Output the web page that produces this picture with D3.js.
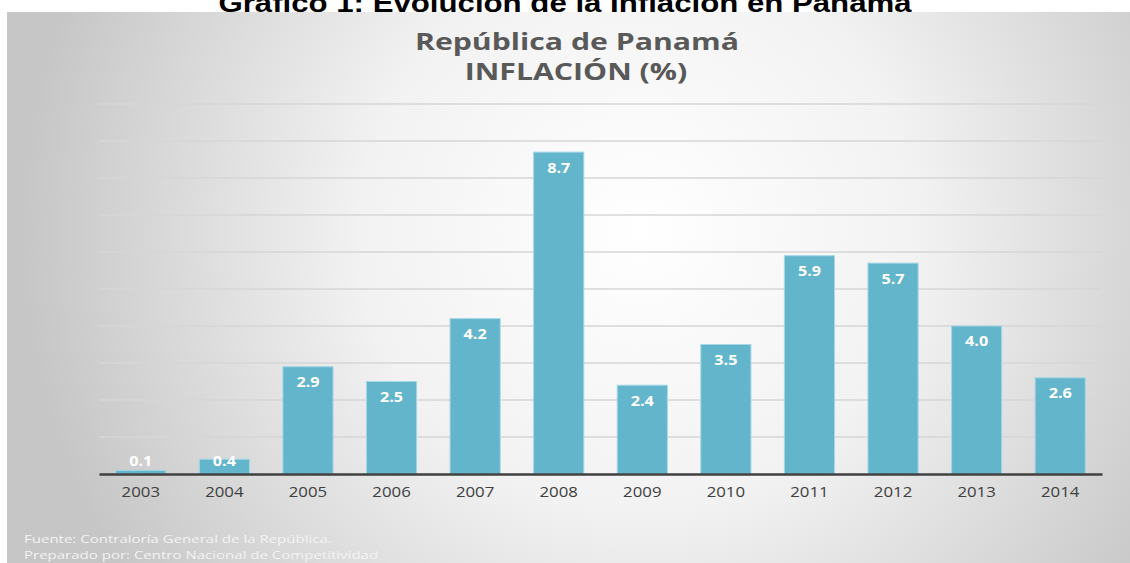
<!DOCTYPE html>
<html>
<head>
<meta charset="utf-8">
<script src="https://cdn.jsdelivr.net/npm/d3@7"></script>
<style>
  body { margin: 0; background: #fff; }
  text { font-family: "Open Sans", sans-serif; }
</style>
</head>
<body>
<div id="chart"></div>
<script>
const years = ["2003","2004","2005","2006","2007","2008","2009","2010","2011","2012","2013","2014"];
const inflation = [0.1, 0.4, 2.9, 2.5, 4.2, 8.7, 2.4, 3.5, 5.9, 5.7, 4.0, 2.6];
const yTicks = [0,1,2,3,4,5,6,7,8,9,10];

const width = 1130, height = 563;

const svg = d3.select("#chart").append("svg")
  .attr("width", width).attr("height", height);

const defs = svg.append("defs");
const grad = defs.append("radialGradient").attr("id", "bg")
  .attr("gradientUnits", "userSpaceOnUse")
  .attr("cx", 640).attr("cy", 230).attr("r", 620);
grad.append("stop").attr("offset", "0%").attr("stop-color", "#ffffff");
grad.append("stop").attr("offset", "45%").attr("stop-color", "#f2f2f2");
grad.append("stop").attr("offset", "100%").attr("stop-color", "#c6c6c6");

svg.append("rect").attr("x", 7).attr("y", 12)
  .attr("width", width - 7).attr("height", height - 12)
  .attr("fill", "url(#bg)");

// stretched text helper (the original picture is stretched sideways)
function label(sel, x, y, str, size, weight, color, anchor, sx) {
  sel.append("g").attr("transform", `translate(${x},${y}) scale(${sx || 1.2},1)`)
    .append("text")
    .attr("text-anchor", anchor || "middle")
    .attr("dominant-baseline", "central")
    .attr("font-size", size).attr("font-weight", weight).attr("fill", color)
    .text(str);
}

// outer caption (cut off at the top, as in the source)
svg.append("g").attr("transform", "translate(565,12) scale(1.2,1)")
  .append("text")
  .attr("text-anchor", "middle")
  .style("font-family", "'Liberation Sans', Arial, sans-serif")
  .attr("font-size", 26).attr("font-weight", "bold").attr("fill", "#000")
  .text("Gráfico 1: Evolución de la Inflación en Panamá");

label(svg, 577, 41, "República de Panamá", 24, "bold", "#595959", "middle", 1.26);
label(svg, 576, 71, "INFLACIÓN (%)", 24, "bold", "#595959", "middle", 1.26);

const margin = { t: 104, l: 99, r: 28, b: 89 };
const innerW = width - margin.l - margin.r;
const innerH = height - margin.t - margin.b;

const x = d3.scaleBand().domain(years).range([0, innerW])
  .paddingInner(0.4).paddingOuter(0.2);
const y = d3.scaleLinear().domain([0, 10]).range([innerH, 0]);

const g = svg.append("g").attr("transform", `translate(${margin.l},${margin.t})`);

g.append("g").selectAll("line").data(yTicks.slice(1)).enter().append("line")
  .attr("x1", 0).attr("x2", innerW)
  .attr("y1", d => y(d)).attr("y2", d => y(d))
  .attr("stroke", "#d6d6d6").attr("stroke-width", 1.5);

const data = years.map((yr, i) => ({ year: yr, value: inflation[i] }));

g.selectAll(".bar").data(data).enter().append("rect")
  .attr("class", "bar")
  .attr("x", d => x(d.year))
  .attr("y", d => y(d.value))
  .attr("width", x.bandwidth())
  .attr("height", d => innerH - y(d.value))
  .attr("fill", "#63b5cb")
  .attr("stroke", "#a6d7e5").attr("stroke-width", 1);

// x axis
const xAxis = g.append("g").attr("transform", `translate(0,${innerH})`)
  .call(d3.axisBottom(x).tickSize(0).tickPadding(0));
xAxis.select(".domain").attr("stroke", "#404040").attr("stroke-width", 2.5);
xAxis.selectAll(".tick text").remove();
xAxis.selectAll(".tick").each(function(d) {
  label(d3.select(this), 0, 18, d, 14, "normal", "#404040");
});

// value labels
data.forEach(d => {
  const ly = Math.min(y(d.value) + 15, innerH - 13);
  label(g, x(d.year) + x.bandwidth() / 2, ly, d.value.toFixed(1), 13.5, "bold", "#ffffff");
});

label(svg, 24, 538.5, "Fuente: Contraloría General de la República.", 11.3, "normal", "#f3f3f3", "start", 1.33);
label(svg, 24, 554.5, "Preparado por: Centro Nacional de Competitividad", 11.3, "normal", "#f3f3f3", "start", 1.33);
</script>
</body>
</html>
